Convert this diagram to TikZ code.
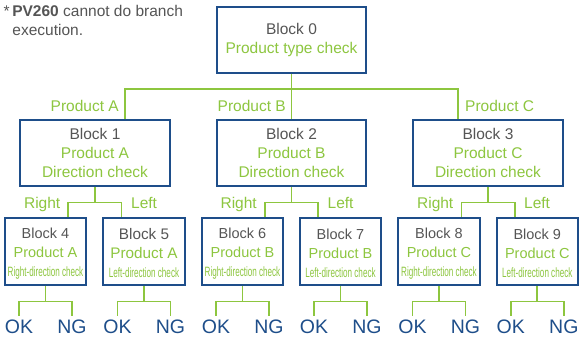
\documentclass[tikz,border=0pt]{standalone}
\usepackage{fontspec}
\setmainfont{Liberation Sans}
\usepackage{graphicx}
\definecolor{bblue}{RGB}{30,78,138}
\definecolor{lgreen}{RGB}{141,198,63}
\definecolor{tgray}{RGB}{85,85,85}
\newcommand{\smallline}[1]{\scalebox{0.6}[1]{\fontsize{13.5}{19}\selectfont #1}}
\begin{document}
\begin{tikzpicture}[x=1pt,y=-1pt,
  box/.style={draw=bblue, line width=2.1pt, inner sep=0pt, align=center,
    font=\fontsize{15.5}{18.8}\selectfont, text=lgreen,
    minimum height=66pt},
  lowbox/.style={draw=bblue, line width=2.1pt, inner sep=0pt, align=center,
    font=\fontsize{14.5}{19}\selectfont, text=lgreen,
    minimum width=81.5pt, minimum height=67pt},
  conn/.style={draw=lgreen, line width=1.7pt},
  lbl/.style={text=lgreen, font=\fontsize{15.5}{19}\selectfont, inner sep=0pt},
  res/.style={text=bblue, font=\fontsize{19.5}{19}\selectfont, inner sep=0pt, anchor=base},
  hdr/.style={text=tgray, font=\fontsize{15.5}{18.3}\selectfont, inner sep=0pt, anchor=base west}]
\fill[white] (0,0) rectangle (579,341);
\useasboundingbox (0,0) rectangle (579,341);

% header note
\node[hdr] (note1) at (3.5,16.7) {*\,\textbf{PV260} cannot do branch};
\node[hdr] (note2) at (12.3,35) {execution.};

% top block
\node[box, minimum width=149.5pt] (b0) at (291.5,40) {\textcolor{tgray}{Block 0}\\Product type check};

% middle blocks
\node[box, minimum width=150pt] (b1) at (95,153) {\textcolor{tgray}{Block 1}\\Product A\\Direction check};
\node[box, minimum width=149pt] (b2) at (291.5,153) {\textcolor{tgray}{Block 2}\\Product B\\Direction check};
\node[box, minimum width=150pt] (b3) at (488,153) {\textcolor{tgray}{Block 3}\\Product C\\Direction check};

% lower blocks
\node[lowbox] (b4) at (45.5,251.5) {\rule{0pt}{14.5pt}\textcolor{tgray}{Block 4}\\Product A\\\smallline{Right-direction check}};
\node[lowbox, font=\fontsize{15.3}{19}\selectfont] (b5) at (144,251.5) {\rule{0pt}{14.5pt}\textcolor{tgray}{Block 5}\\Product A\\\smallline{Left-direction check}};
\node[lowbox] (b6) at (242.5,251.5) {\rule{0pt}{14.5pt}\textcolor{tgray}{Block 6}\\Product B\\\smallline{Right-direction check}};
\node[lowbox] (b7) at (340.5,251.5) {\rule{0pt}{14.5pt}\textcolor{tgray}{Block 7}\\Product B\\\smallline{Left-direction check}};
\node[lowbox] (b8) at (439,251.5) {\rule{0pt}{14.5pt}\textcolor{tgray}{Block 8}\\Product C\\\smallline{Right-direction check}};
\node[lowbox] (b9) at (537.3,251.5) {\rule{0pt}{14.5pt}\textcolor{tgray}{Block 9}\\Product C\\\smallline{Left-direction check}};

% top connectors
\coordinate (t1) at (125,89);
\coordinate (t3) at (457.7,89);
\draw[conn] (b0.south) -- (b0.south |- t1);
\draw[conn] (t1 |- b1.north) -- (t1) -- (t3) -- (t3 |- b3.north);
\draw[conn] (b0.south |- t1) -- (b2.north);
\node[lbl, anchor=base east] (lA) at (119,111) {Product A};
\node[lbl, anchor=base east] (lB) at (286,111) {Product B};
\node[lbl, anchor=base west] (lC) at (465,111) {Product C};

% middle connectors
\foreach \p/\l/\r in {1/4/5, 2/6/7, 3/8/9}{
  \coordinate (m\p) at ([yshift=-15.5pt]b\p.south);
  \draw[conn] (b\p.south) -- (m\p);
  \draw[conn] ([xshift=22.5pt]b\l.north) |- (m\p) -| ([xshift=-22.5pt]b\r.north);
  \node[lbl, anchor=base east] (R\p) at ([xshift=-34.5pt,yshift=-6pt]m\p) {Right};
  \node[lbl, anchor=base west] (L\p) at ([xshift=36pt,yshift=-6pt]m\p) {Left};
}

% bottom connectors and results
\foreach \i/\x in {4/45.5, 5/144, 6/242.5, 7/340.5, 8/439, 9/537.3}{
  \node[res] (ok\i) at ({\x-26.5},333.5) {OK};
  \node[res] (ng\i) at ({\x+26.5},333.5) {NG};
  \coordinate (n\i) at ([yshift=-15.5pt]b\i.south);
  \draw[conn] (b\i.south) -- (n\i);
  \draw[conn] ([yshift=3.8pt]ok\i.north) |- (n\i) -| ([yshift=3.8pt]ng\i.north);
}
\end{tikzpicture}
\end{document}
